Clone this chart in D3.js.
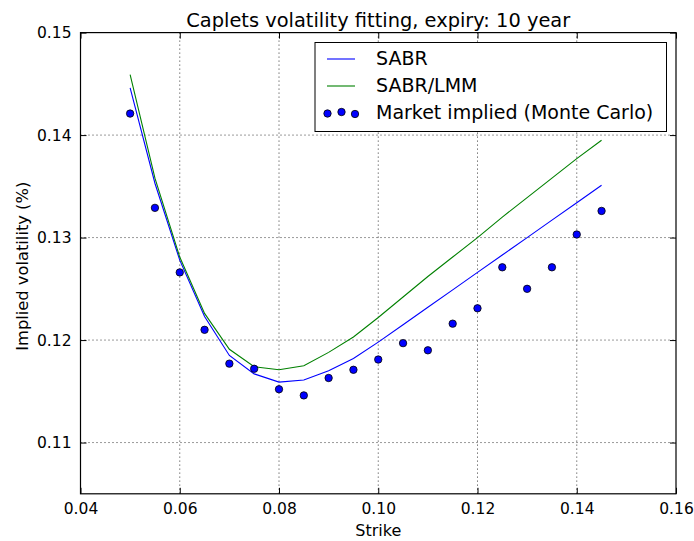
<!DOCTYPE html>
<html>
<head>
<meta charset="utf-8">
<script src="https://cdn.jsdelivr.net/npm/d3@7"></script>
<style>
  html, body { margin: 0; padding: 0; background: #fff; }
  svg { display: block; font-family: "DejaVu Sans", sans-serif; }
</style>
</head>
<body>
<svg id="chart" width="694" height="541"></svg>
<script>
// Strikes shared by all three series
const strikes = [0.05, 0.055, 0.06, 0.065, 0.07, 0.075, 0.08, 0.085, 0.09, 0.095,
                 0.10, 0.105, 0.11, 0.115, 0.12, 0.125, 0.13, 0.135, 0.14, 0.145];

// SABR model fit
const sabr = [0.1446, 0.1353, 0.1278, 0.1223, 0.1185, 0.1167, 0.1159, 0.1161, 0.1170, 0.1182,
              0.1198, 0.1215, 0.1232, 0.1249, 0.1266, 0.1283, 0.1300, 0.1317, 0.1334, 0.1351];

// SABR/LMM model fit
const sabrLmm = [0.1459, 0.1358, 0.1281, 0.1226, 0.1191, 0.1174, 0.1171, 0.1175, 0.1188, 0.1203,
                 0.1222, 0.1242, 0.1262, 0.1281, 0.1300, 0.1320, 0.1339, 0.1358, 0.1377, 0.1395];

// Market implied volatilities from Monte Carlo
const market = [0.1421, 0.1329, 0.1266, 0.1210, 0.1177, 0.1172, 0.1152, 0.1146, 0.1163, 0.1171,
                0.1181, 0.1197, 0.1190, 0.1216, 0.1231, 0.1271, 0.1250, 0.1271, 0.1303, 0.1326];

const xTicks = [0.04, 0.06, 0.08, 0.10, 0.12, 0.14, 0.16];
const yTicks = [0.11, 0.12, 0.13, 0.14, 0.15];

const svg = d3.select("#chart");
const plotL = 80.5, plotR = 676, plotT = 32.6, plotB = 493.8;

const x = d3.scaleLinear().domain([0.04, 0.16]).range([plotL, plotR]);
const y = d3.scaleLinear().domain([0.105, 0.15]).range([plotB, plotT]);

// Dotted grid
const grid = svg.append("g");
grid.selectAll("line.gx").data(xTicks.slice(1, -1)).join("line")
  .attr("x1", d => x(d)).attr("x2", d => x(d)).attr("y1", plotT).attr("y2", plotB)
  .attr("stroke", "#000").attr("stroke-width", 0.8).attr("stroke-dasharray", "1,3");
grid.selectAll("line.gy").data(yTicks.filter(v => v < 0.15)).join("line")
  .attr("x1", plotL).attr("x2", plotR).attr("y1", d => y(d)).attr("y2", d => y(d))
  .attr("stroke", "#000").attr("stroke-width", 0.8).attr("stroke-dasharray", "1,3");

// Axes with inward ticks on all four sides
const fmt = d3.format(".2f");
const tickFont = "15.5px";

const axB = svg.append("g").attr("transform", `translate(0,${plotB})`)
  .call(d3.axisBottom(x).tickValues(xTicks).tickSize(-6).tickPadding(9).tickFormat(fmt));
const axT = svg.append("g").attr("transform", `translate(0,${plotT})`)
  .call(d3.axisTop(x).tickValues(xTicks).tickSize(-6).tickFormat(""));
const axL = svg.append("g").attr("transform", `translate(${plotL},0)`)
  .call(d3.axisLeft(y).tickValues(yTicks).tickSize(-6).tickPadding(9).tickFormat(fmt));
const axR = svg.append("g").attr("transform", `translate(${plotR},0)`)
  .call(d3.axisRight(y).tickValues(yTicks).tickSize(-6).tickFormat(""));

[axB, axT, axL, axR].forEach(a => {
  a.select(".domain").remove();
  a.selectAll(".tick line").attr("stroke", "#000").attr("stroke-width", 1);
  a.selectAll(".tick text").attr("fill", "#000").style("font-size", tickFont)
    .style("font-family", "DejaVu Sans, sans-serif");
});

// Model curves
const line = d3.line().x((d, i) => x(strikes[i])).y(d => y(d));
svg.append("path").datum(sabr).attr("d", line)
  .attr("fill", "none").attr("stroke", "#0000ff").attr("stroke-width", 1.1);
svg.append("path").datum(sabrLmm).attr("d", line)
  .attr("fill", "none").attr("stroke", "#008000").attr("stroke-width", 1.1);

// Market points
svg.append("g").selectAll("circle").data(market).join("circle")
  .attr("cx", (d, i) => x(strikes[i])).attr("cy", d => y(d)).attr("r", 3.7)
  .attr("fill", "#0000ff").attr("stroke", "#000").attr("stroke-width", 0.8);

// Frame
svg.append("rect").attr("x", plotL).attr("y", plotT)
  .attr("width", plotR - plotL).attr("height", plotB - plotT)
  .attr("fill", "none").attr("stroke", "#000").attr("stroke-width", 1.2);

// Legend
const lg = svg.append("g");
lg.append("rect").attr("x", 315).attr("y", 42.5).attr("width", 351.5).attr("height", 89)
  .attr("fill", "#fff").attr("stroke", "#000").attr("stroke-width", 1);
const entries = [
  { label: "SABR", color: "#0000ff", type: "line", cy: 59 },
  { label: "SABR/LMM", color: "#008000", type: "line", cy: 86 },
  { label: "Market implied (Monte Carlo)", color: "#0000ff", type: "dots", cy: 113 }
];
entries.forEach(e => {
  if (e.type === "line") {
    lg.append("line").attr("x1", 327).attr("x2", 355).attr("y1", e.cy).attr("y2", e.cy)
      .attr("stroke", e.color).attr("stroke-width", 1.1);
  } else {
    [[327.5, 0.5], [341.5, -1], [355, 1]].forEach(([cx, dy]) => {
      lg.append("circle").attr("cx", cx).attr("cy", e.cy + dy).attr("r", 3.7)
        .attr("fill", e.color).attr("stroke", "#000").attr("stroke-width", 0.8);
    });
  }
  lg.append("text").attr("x", 376).attr("y", e.cy).attr("dy", "0.33em")
    .style("font-size", "19px").attr("fill", "#000").text(e.label);
});

// Title and axis labels
svg.append("text").attr("x", (plotL + plotR) / 2).attr("y", 26.5).attr("text-anchor", "middle")
  .style("font-size", "19.4px").text("Caplets volatility fitting, expiry: 10 year");
svg.append("text").attr("x", (plotL + plotR) / 2).attr("y", 536).attr("text-anchor", "middle")
  .style("font-size", "16px").text("Strike");
svg.append("text").attr("transform", `translate(28,${(plotT + plotB) / 2 + 3}) rotate(-90)`)
  .attr("text-anchor", "middle").style("font-size", "16.3px").text("Implied volatility (%)");
</script>
</body>
</html>
